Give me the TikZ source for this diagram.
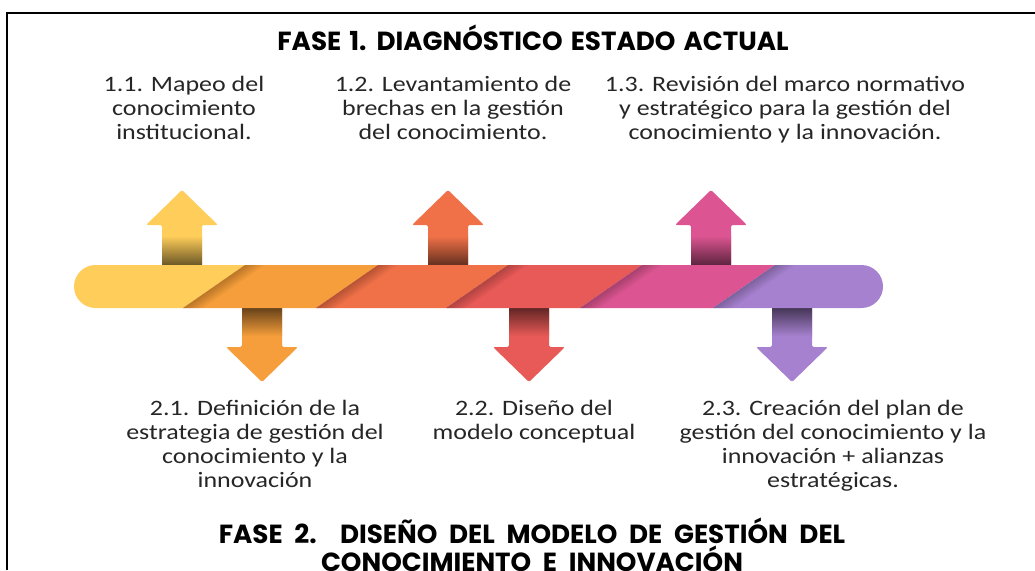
\documentclass[tikz,border=0pt]{standalone}
\usepackage{fontspec}
\setmainfont{Carlito}
\newfontfamily\textofont[FakeStretch=1.18]{Carlito}
\newfontfamily\titulofont[WordSpace=1.15]{Poppins}
\newfontfamily\tituloancho[WordSpace=1.45]{Poppins}

\definecolor{barA}{HTML}{FECD5A}
\definecolor{barB}{HTML}{F59E3B}
\definecolor{barC}{HTML}{F07148}
\definecolor{barD}{HTML}{E85A57}
\definecolor{barE}{HTML}{DC5592}
\definecolor{barF}{HTML}{A681CF}

\begin{document}
\begin{tikzpicture}[x=1pt,y=-1pt,
  texto/.style={font=\textofont\fontsize{22}{24}\selectfont, text=black!85, align=center, inner sep=0pt, anchor=base},
  titulo/.style={font=\titulofont\bfseries\fontsize{26.2}{28}\selectfont, align=center, inner sep=0pt, anchor=base}]
\useasboundingbox (0,0) rectangle (1035,570);
\clip (0,0) rectangle (1035,570);

%marco
\draw[line width=1.5pt] (7,570)--(7,13)--(1035,13);

%flechas hacia arriba
\foreach \cx/\col in {182/barA, 448/barC, 711/barE}{
  \fill[\col, rounded corners=2pt] (\cx-20,275)--(\cx-20,225)--(\cx-36,225)--(\cx,190)--(\cx+36,225)--(\cx+20,225)--(\cx+20,275)--cycle;
  \shade[top color=\col, bottom color=\col!40!black] (\cx-20,236) rectangle (\cx+20,266);
}

%flechas hacia abajo
\foreach \cx/\col in {262/barB, 529/barD, 792/barF}{
  \fill[\col, rounded corners=2pt] (\cx-20,298)--(\cx-20,347)--(\cx-36,347)--(\cx,382)--(\cx+36,347)--(\cx+20,347)--(\cx+20,298)--cycle;
  \shade[top color=\col!40!black, bottom color=\col] (\cx-20,307) rectangle (\cx+20,336);
}

%barra
\begin{scope}
\clip[rounded corners=21.5pt] (74,265) rectangle (883,308);
\foreach \a/\b/\col in {0/245/barA, 245/378/barB, 378/508/barC, 508/642/barD, 642/775/barE, 775/1035/barF}
  \fill[\col] (\a,265)--(\b,265)--(\b-62,308)--(\a-62,308)--cycle;
%sombras
\foreach \a in {245,378,508,642,775}
  \foreach \w in {2,4,...,20}
    \fill[black, fill opacity=0.025] (\a,265)--(\a+\w,265)--(\a+\w-62,308)--(\a-62,308)--cycle;
\end{scope}

%titulos (base = ultima linea)
\node[titulo] (tit1) at (533,50.7) {FASE 1. DIAGNÓSTICO ESTADO ACTUAL};
\node[titulo, font=\tituloancho\bfseries\fontsize{26.2}{28}\selectfont] (tit2) at (532,571) {FASE 2.\ \ DISEÑO DEL MODELO DE GESTIÓN DEL\\CONOCIMIENTO E INNOVACIÓN};

%fase 1
\node[texto] (t11) at (184,139.3) {1.1. Mapeo del\\conocimiento\\institucional.};
\node[texto] (t12) at (453,139.3) {1.2. Levantamiento de\\brechas en la gestión\\del conocimiento.};
\node[texto] (t13) at (785,139.3) {1.3. Revisión del marco normativo\\y estratégico para la gestión del\\conocimiento y la innovación.};

%fase 2
\node[texto] (t21) at (255,487.3) {2.1. Definición de la\\estrategia de gestión del\\conocimiento y la\\innovación};
\node[texto] (t22) at (534,439.3) {2.2. Diseño del\\modelo conceptual};
\node[texto] (t23) at (833,487.3) {2.3. Creación del plan de\\gestión del conocimiento y la\\innovación + alianzas\\estratégicas.};

\end{tikzpicture}
\end{document}
